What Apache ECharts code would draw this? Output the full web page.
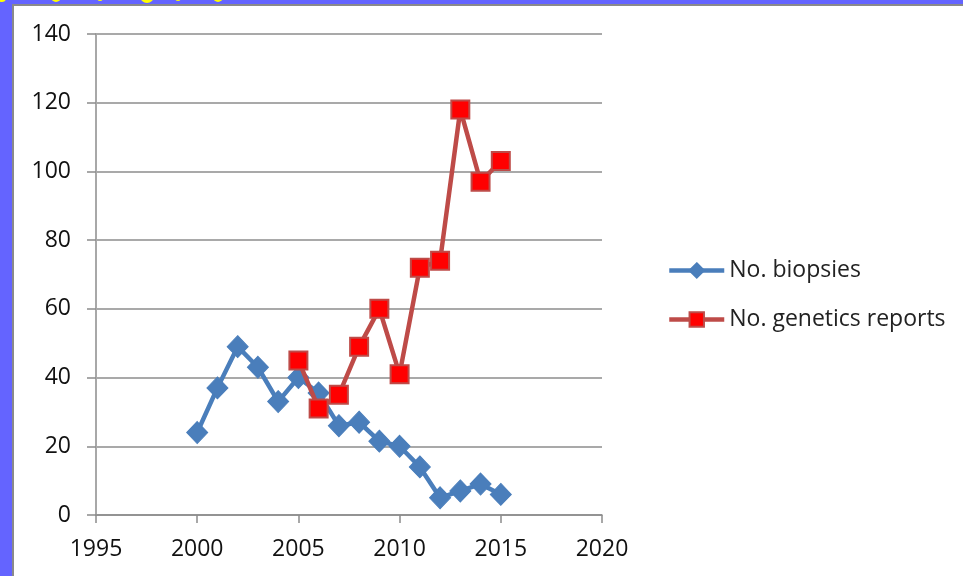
<!DOCTYPE html>
<html>
<head>
<meta charset="utf-8">
<script src="https://cdn.jsdelivr.net/npm/echarts@6/dist/echarts.min.js"></script>
<style>
html,body{margin:0;padding:0;background:#6464FF;}
#chart{width:963px;height:576px;}
</style>
</head>
<body>
<div id="chart"></div>
<script>
const years = [2000,2001,2002,2003,2004,2005,2006,2007,2008,2009,2010,2011,2012,2013,2014,2015];
const biopsies = [24,37,49,43,33,40,35.5,26,27,21.5,20,14,5,7,9,6];
const reportYears = [2005,2006,2007,2008,2009,2010,2011,2012,2013,2014,2015];
const reports = [45,31,35,49,60,41,72,74,118,97,103];
const xTicks = [1995,2000,2005,2010,2015,2020];
const yTicks = [0,20,40,60,80,100,120,140];
const seriesNames = ['No. biopsies','No. genetics reports'];

const chart = echarts.init(document.getElementById('chart'));
const font = '"Open Sans", sans-serif';
const yellowBits = [[2,-2,4],[56,-3,5],[100,-2,3],[147,-4,7],[178,-2,3],[218,-3,5]];
chart.setOption({
  animation: false,
  backgroundColor: '#6464FF',
  textStyle: {fontFamily: font},
  graphic: [
    {type:'rect', z:-20, shape:{x:13,y:5,width:960,height:580}, style:{fill:'#ffffff', stroke:'#8a8a8a', lineWidth:2}}
  ].concat(yellowBits.map(b => ({type:'circle', z:-19, shape:{cx:b[0], cy:b[1], r:b[2]}, style:{fill:'#FFFF00'}}))),
  grid: {left:96, right:361, top:34, bottom:61},
  legend: {
    orient:'vertical', left:667, top:259, itemGap:26, padding:0,
    itemWidth:55, itemHeight:18,
    lineStyle:{width:4.5},
    textStyle:{fontSize:23, color:'#222', fontFamily:font},
    data: seriesNames
  },
  xAxis: {
    type:'value', min:xTicks[0], max:xTicks[xTicks.length-1], interval:5,
    axisLine:{show:true, onZero:false, lineStyle:{color:'#8c8c8c', width:1.5}},
    axisTick:{show:true, length:8, lineStyle:{color:'#8c8c8c', width:1.5}},
    splitLine:{show:false},
    axisLabel:{fontSize:23, color:'#111', margin:23, fontFamily:font, formatter: v => String(v)}
  },
  yAxis: {
    type:'value', min:yTicks[0], max:yTicks[yTicks.length-1], interval:20,
    axisLine:{show:true, lineStyle:{color:'#a8a8a8', width:2}},
    axisTick:{show:true, length:9, lineStyle:{color:'#8c8c8c', width:1.5}},
    splitLine:{show:true, lineStyle:{color:'#8c8c8c', width:1.5}},
    axisLabel:{fontSize:23, color:'#111', margin:25, fontFamily:font}
  },
  series: [
    {
      name: seriesNames[0], type:'line',
      data: years.map((y,i)=>[y,biopsies[i]]),
      symbol:'diamond', symbolSize:[21,22],
      lineStyle:{color:'#4A7EBB', width:4.5},
      itemStyle:{color:'#4A7EBB', borderColor:'#4A7EBB', borderWidth:1},
      z:2
    },
    {
      name: seriesNames[1], type:'line',
      data: reportYears.map((y,i)=>[y,reports[i]]),
      symbol:'rect', symbolSize:18,
      lineStyle:{color:'#BE4B48', width:4.5},
      itemStyle:{color:'#FF0000', borderColor:'#BE4B48', borderWidth:2},
      z:3
    }
  ]
});
</script>
</body>
</html>
